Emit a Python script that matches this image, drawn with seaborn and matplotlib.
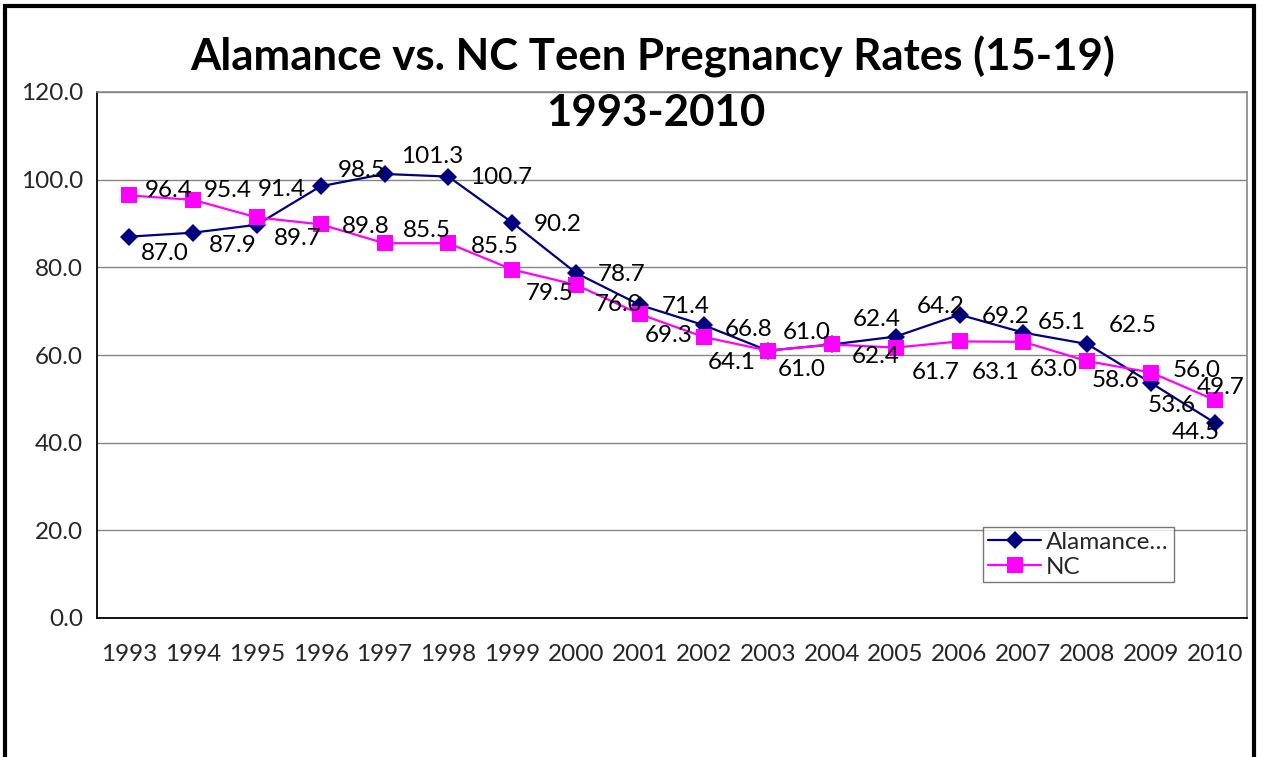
import numpy as np
import pandas as pd
import matplotlib
matplotlib.use("Agg")
import matplotlib.pyplot as plt
from matplotlib.patches import Rectangle
import seaborn as sns

years = ["1993", "1994", "1995", "1996", "1997", "1998", "1999", "2000", "2001",
         "2002", "2003", "2004", "2005", "2006", "2007", "2008", "2009", "2010"]
alamance = [87.0, 87.9, 89.7, 98.5, 101.3, 100.7, 90.2, 78.7, 71.4,
            66.8, 61.0, 62.4, 64.2, 69.2, 65.1, 62.5, 53.6, 44.5]
nc = [96.4, 95.4, 91.4, 89.8, 85.5, 85.5, 79.5, 76.0, 69.3,
      64.1, 61.0, 62.4, 61.7, 63.1, 63.0, 58.6, 56.0, 49.7]
series_names = ["Alamance\u2026", "NC"]
yticks = [0, 20, 40, 60, 80, 100, 120]

# label offsets (pixels, dx right, dy down) mimicking the original label placement
al_off = [(36, 17), (40, 13), (41, 14), (41, -16), (48, -17), (53, 1), (45, 2), (45, 1), (46, 1),
          (45, 4), (39, -18), (45, -25), (45, -30), (46, 2), (38, -10), (45, -19), (20, 22), (-19, 10)]
nc_off = [(40, -5), (35, -9), (25, -28), (45, 2), (42, -13), (46, 3), (37, 24), (43, 20), (29, 21),
          (28, 25), (34, 19), (44, 12), (40, 25), (36, 31), (30, 28), (28, 19), (45, -2), (6, -13)]

sns.set_style("white")
plt.rcParams["font.family"] = ["Lato", "DejaVu Sans"]

W, H = 1263, 757
fig = plt.figure(figsize=(W / 100, H / 100), dpi=100)
L, R, T, B = 97, 1247, 92, 618
ax = fig.add_axes([L / W, 1 - B / H, (R - L) / W, (B - T) / H])

pos = np.arange(len(years))
df = pd.DataFrame({
    "pos": np.concatenate([pos, pos]),
    "rate": alamance + nc,
    "series": [series_names[0]] * len(years) + [series_names[1]] * len(years),
})
navy = "#000080"
mag = "#FF00FF"
sns.lineplot(data=df, x="pos", y="rate", hue="series", style="series",
             palette={series_names[0]: navy, series_names[1]: mag},
             markers={series_names[0]: "D", series_names[1]: "s"},
             dashes=False, linewidth=1.6, markersize=10, markeredgewidth=0,
             ax=ax, zorder=3)
for ln in ax.get_lines():
    if ln.get_marker() == "s":
        ln.set_markersize(11)
    elif ln.get_marker() == "D":
        ln.set_markersize(9)

fs = 17.5
for i, v in enumerate(alamance):
    dx, dy = al_off[i]
    ax.annotate(f"{v:.1f}", (pos[i], v), xytext=(dx, -dy), textcoords="offset pixels",
                ha="center", va="center", fontsize=fs, color="black", zorder=5)
for i, v in enumerate(nc):
    dx, dy = nc_off[i]
    ax.annotate(f"{v:.1f}", (pos[i], v), xytext=(dx, -dy), textcoords="offset pixels",
                ha="center", va="center", fontsize=fs, color="black", zorder=5)

ax.set_xlim(-0.5, len(years) - 0.5)
ax.set_ylim(0, 120)
ax.set_yticks(yticks)
ax.set_yticklabels([f"{t:.1f}" for t in yticks], fontsize=fs)
ax.set_xticks(pos)
ax.set_xticklabels(years, fontsize=fs)
ax.set_xticks(np.arange(-0.5, len(years), 1.0), minor=True)
ax.tick_params(axis="x", which="major", length=0, pad=19)
ax.tick_params(axis="x", which="minor", length=7, width=1, color="#555555", direction="out")
ax.tick_params(axis="y", which="major", length=7, width=1, color="#555555", direction="out", pad=3)
ax.set_xlabel("")
ax.set_ylabel("")
ax.yaxis.grid(True, color="#868686", linewidth=1)
ax.set_axisbelow(True)
for s in ["top", "right"]:
    ax.spines[s].set_color("#868686")
    ax.spines[s].set_linewidth(1.2)
for s in ["left", "bottom"]:
    ax.spines[s].set_color("black")
    ax.spines[s].set_linewidth(1.3)

leg = ax.legend(loc="upper left", bbox_to_anchor=((983 - L) / (R - L), (B - 527) / (B - T)),
                fontsize=fs, frameon=True, fancybox=False, edgecolor="#555555",
                handlelength=2.2, handletextpad=0.2, labelspacing=0.15, borderpad=0.2,
                borderaxespad=0)
leg.get_frame().set_linewidth(1.0)
leg.set_zorder(6)

fig.text(653 / W, 1 - 57 / H, "Alamance vs. NC Teen Pregnancy Rates (15-19)",
         ha="center", va="center", fontsize=31.5, fontweight="bold", color="black")
fig.text(656 / W, 1 - 113 / H, "1993-2010",
         ha="center", va="center", fontsize=31.5, fontweight="bold", color="black")

fig.add_artist(Rectangle((5 / W, -0.05), (1254 - 5) / W, 1.05 - 6 / H,
                         transform=fig.transFigure, fill=False, edgecolor="black",
                         linewidth=3, zorder=10))

fig.savefig("out.png", dpi=100)
